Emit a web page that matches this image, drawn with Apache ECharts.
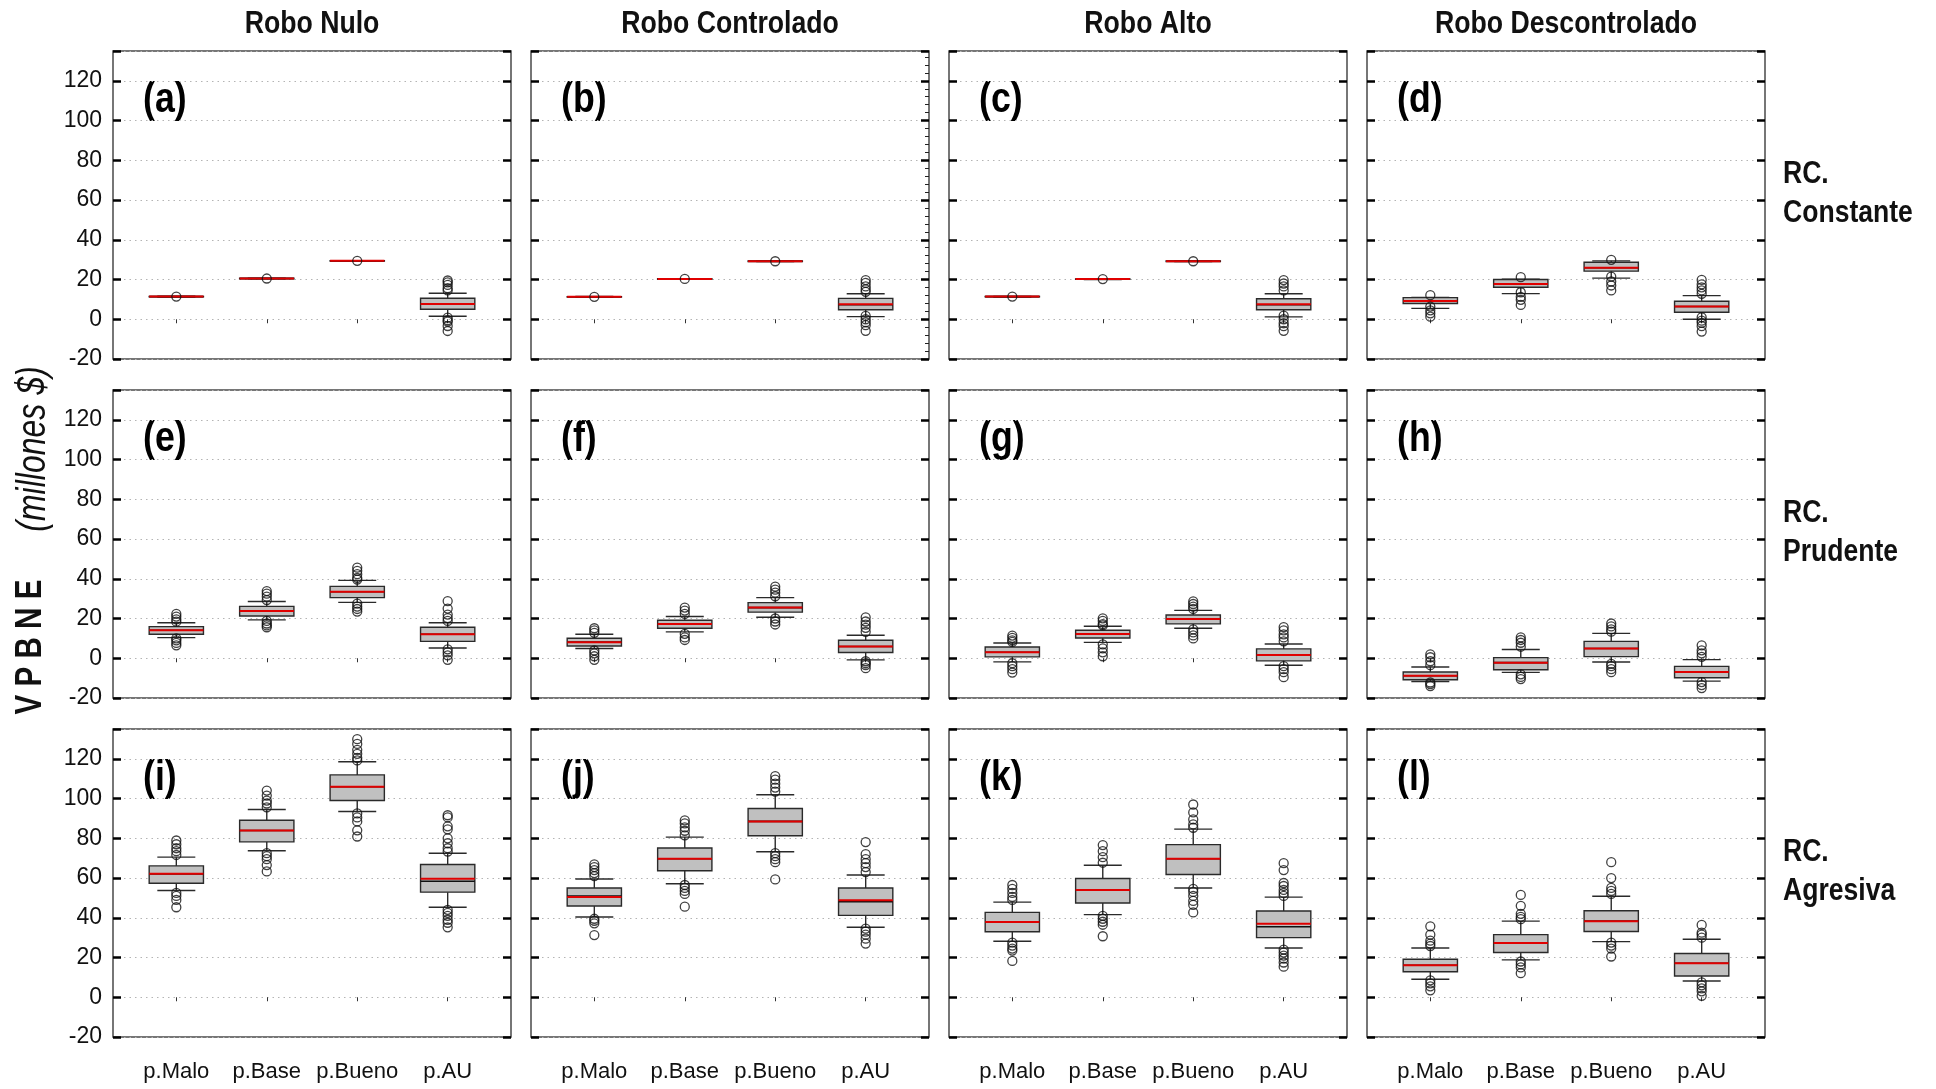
<!DOCTYPE html>
<html><head><meta charset="utf-8">
<script src="https://cdn.jsdelivr.net/npm/echarts@6/dist/echarts.min.js"></script>
<style>html,body{margin:0;padding:0;background:#fff;}#c{width:1936px;height:1089px;}</style>
</head><body><div id="c"></div>
<script>
// ---------------- DATA ----------------
const categories = ['p.Malo', 'p.Base', 'p.Bueno', 'p.AU'];
const columnTitles = ['Robo Nulo', 'Robo Controlado', 'Robo Alto', 'Robo Descontrolado'];
const rowTitles = ['RC.\nConstante', 'RC.\nPrudente', 'RC.\nAgresiva'];
const panelLetters = ['(a)','(b)','(c)','(d)','(e)','(f)','(g)','(h)','(i)','(j)','(k)','(l)'];
const yTicks = [-20, 0, 20, 40, 60, 80, 100, 120];
const yTitleMain = 'V P B N E';
const yTitleUnit = '(millones $)';

// stats per category: [whisker low, Q1, median, Q3, whisker high, mean]
const statsA = [[11.2,11.3,11.4,11.5,11.6,11.4],[20.3,20.4,20.5,20.6,20.6,20.5],[29.3,29.4,29.4,29.5,29.5,29.4],[1.5,5.0,7.7,10.6,13.1,7.7]];
const statsB = [[11.1,11.2,11.3,11.4,11.5,11.3],[20.1,20.2,20.3,20.4,20.4,20.3],[29.1,29.2,29.2,29.3,29.3,29.2],[1.3,4.8,7.3,10.5,12.8,7.5]];
const statsC = [[11.2,11.3,11.4,11.5,11.5,11.4],[20.0,20.1,20.2,20.3,20.3,20.2],[29.1,29.2,29.2,29.3,29.3,29.2],[1.2,4.8,7.3,10.3,12.8,7.5]];
const statsD = [[5.5,7.9,9.2,10.9,11.0,9.2],[12.9,16.1,17.8,20.0,20.2,17.8],[20.7,24.2,25.9,28.7,29.4,25.9],[0.0,3.5,6.4,9.1,11.9,6.4]];
const statsE = [[10.4,12.1,14.1,15.9,17.9,14.1],[19.3,21.3,23.8,26.1,28.6,23.8],[28.1,30.5,33.5,36.2,39.2,33.5],[5.2,8.5,12.1,15.6,17.9,12.1]];
const statsF = [[4.9,6.2,8.1,10.1,12.1,8.1],[13.3,15.1,17.3,19.1,21.0,17.3],[20.6,23.2,25.5,28.0,30.5,25.5],[-0.8,2.9,5.9,9.1,11.6,5.9]];
const statsG = [[-1.8,0.7,3.0,5.7,7.7,3.0],[8.0,10.2,12.2,14.1,16.1,12.2],[15.1,17.3,19.8,21.8,24.1,19.8],[-3.5,-1.3,1.7,4.7,7.2,1.7]];
const statsH = [[-11.7,-10.8,-8.8,-6.9,-4.4,-8.8],[-7.1,-5.8,-2.2,0.3,4.4,-2.2],[-1.9,0.8,4.9,8.5,12.5,4.9],[-11.5,-9.8,-6.9,-4.1,-0.7,-6.9]];
const statsI = [[53.7,57.4,62.1,66.1,70.5,62.1],[73.7,78.2,83.9,89.1,94.5,83.9],[93.5,99.0,105.9,111.9,118.5,105.9],[45.3,52.9,58.4,66.8,72.5,59.7]];
const statsJ = [[40.4,45.9,50.9,55.0,59.5,50.4],[57.1,63.7,69.7,75.1,80.6,69.7],[73.2,81.3,88.5,95.0,101.9,88.5],[35.2,41.2,48.1,55.0,61.5,48.8]];
const statsK = [[28.2,33.0,37.9,42.7,47.9,37.9],[41.6,47.4,54.0,59.8,66.4,54.0],[55.0,61.8,69.7,76.8,84.6,69.7],[24.8,30.0,35.5,43.4,50.4,37.0]];
const statsL = [[9.1,12.8,16.1,19.1,24.8,16.1],[18.8,22.5,27.3,31.5,38.3,27.3],[28.0,33.1,38.3,43.5,50.8,38.3],[8.2,10.7,17.1,22.0,29.2,17.1]];

// outliers per category
const outA = [[11.4],[20.5],[29.4],[19.5,18.6,17.3,15.6,14.5,0.8,-0.5,-1.2,-3.4,-5.9]];
const outB = [[11.3],[20.3],[29.2],[19.7,18.3,16.5,15.0,13.8,1.7,0.0,-1.5,-3.0,-5.8]];
const outC = [[11.4],[20.2],[29.2],[19.7,18.0,16.5,14.5,1.8,0.0,-2.0,-3.5,-5.8]];
const outD = [[12.1,6.4,4.5,3.0,1.3],[21.2,13.6,11.3,9.8,7.2],[29.9,21.5,19.0,17.0,14.5],[19.8,17.6,16.0,14.5,12.8,1.0,-0.7,-1.8,-3.5,-6.2]];
const outE = [[22.3,21.0,19.6,18.4,10.0,9.0,7.7,6.5],[33.8,32.5,31.0,29.3,18.8,17.5,16.5,15.6],[45.6,44.0,42.3,40.5,39.6,27.5,26.0,24.8,23.5],[28.8,25.0,22.0,20.2,18.8,4.5,3.0,1.5,-0.8]];
const outF = [[15.1,14.0,12.8,3.9,2.5,1.0,-0.8],[25.5,24.0,22.3,12.3,10.5,9.2],[36.0,34.5,33.0,31.2,20.0,18.5,17.0],[20.6,18.5,16.9,15.3,13.3,-1.5,-2.5,-3.4,-5.0]];
const outG = [[11.4,10.3,9.0,8.2,-2.5,-4.0,-5.5,-7.2],[20.1,18.8,17.2,16.5,7.0,5.0,3.0,1.0],[28.6,27.3,26.0,24.8,14.5,13.0,11.5,10.0],[15.7,14.0,12.0,10.5,8.5,-4.0,-5.5,-7.0,-9.5]];
const outH = [[2.0,0.5,-1.5,-3.5,-12.2,-13.0,-14.0],[10.5,9.2,7.8,5.8,-8.1,-9.4,-10.5],[17.5,16.0,14.5,13.4,-2.8,-4.0,-5.5,-7.0],[6.5,4.0,2.5,0.7,-12.0,-13.5,-15.0]];
const outI = [[78.9,77.0,75.0,73.5,71.6,52.5,51.0,49.0,45.3],[104.0,101.5,99.0,97.5,95.6,72.5,71.0,69.5,66.5,63.3],[129.9,127.5,124.5,122.5,120.5,119.2,92.5,90.5,88.5,84.0,80.9],[91.6,90.5,86.0,84.5,80.0,77.5,75.0,73.3,44.0,42.5,41.0,39.0,37.5,35.2]];
const outJ = [[66.9,65.5,64.0,62.5,61.0,39.5,38.5,37.2,31.3],[89.0,87.5,85.5,83.8,81.5,56.5,55.0,53.5,52.0,45.6],[111.3,109.5,107.5,105.5,103.5,72.5,71.0,69.5,68.0,59.3],[78.1,72.0,69.5,67.5,65.5,63.0,34.5,33.0,31.5,29.5,27.0]];
const outK = [[56.5,54.5,52.5,50.5,49.0,27.5,26.0,24.5,23.5,18.3],[76.6,73.5,70.5,67.7,41.0,39.5,38.0,36.5,30.7],[97.0,93.0,89.5,87.0,85.3,54.5,53.0,51.0,48.5,46.5,42.7],[67.5,64.0,57.5,56.0,54.0,52.5,51.0,24.0,22.5,21.0,19.5,17.5,15.4]];
const outL = [[35.7,31.5,28.5,27.0,25.8,8.5,7.0,5.5,3.5],[51.5,46.0,42.0,40.5,39.3,18.0,16.5,15.0,12.1],[68.0,60.0,55.0,53.5,52.0,27.5,26.0,24.5,20.5],[36.4,32.5,31.5,30.0,7.5,6.0,4.5,3.0,0.7]];

// ---------------- LAYOUT / STYLE ----------------
const panelStats = [statsA,statsB,statsC,statsD,statsE,statsF,statsG,statsH,statsI,statsJ,statsK,statsL];
const panelOut = [outA,outB,outC,outD,outE,outF,outG,outH,outI,outJ,outK,outL];
const GL = [113, 531, 949, 1367];
const GT = [51, 390, 729];
const GW = 398, GH = 308;
const F = "'Liberation Sans', Arial, sans-serif";

function renderBox(params, api) {
  const x = api.value(0);
  const lo = api.value(1), q1 = api.value(2), med = api.value(3), q3 = api.value(4), hi = api.value(5), mean = api.value(6);
  const pLo = api.coord([x, lo]), pQ1 = api.coord([x, q1]), pMed = api.coord([x, med]);
  const pQ3 = api.coord([x, q3]), pHi = api.coord([x, hi]), pMean = api.coord([x, mean]);
  const hb = api.size([0.3, 0])[0];
  const hc = api.size([0.21, 0])[0];
  const cx = pMed[0];
  const st = { stroke: '#2a2a2a', lineWidth: 1.4 };
  return {
    type: 'group',
    children: [
      { type: 'line', shape: { x1: cx, y1: pHi[1], x2: cx, y2: pQ3[1] }, style: st },
      { type: 'line', shape: { x1: cx, y1: pQ1[1], x2: cx, y2: pLo[1] }, style: st },
      { type: 'line', shape: { x1: cx - hc, y1: pHi[1], x2: cx + hc, y2: pHi[1] }, style: st },
      { type: 'line', shape: { x1: cx - hc, y1: pLo[1], x2: cx + hc, y2: pLo[1] }, style: st },
      { type: 'rect', shape: { x: cx - hb, y: pQ3[1], width: 2 * hb, height: Math.max(pQ1[1] - pQ3[1], 0.5) },
        style: { fill: '#c0c0c0', stroke: '#2a2a2a', lineWidth: 1.4 } },
      { type: 'line', shape: { x1: cx - hb, y1: pMed[1], x2: cx + hb, y2: pMed[1] }, style: { stroke: '#111', lineWidth: 1.6 } },
      { type: 'line', shape: { x1: cx - hb, y1: pMean[1], x2: cx + hb, y2: pMean[1] }, style: { stroke: '#e00000', lineWidth: 2 } }
    ]
  };
}

const grids = [], xAxes = [], yAxes = [], series = [], graphics = [];
for (let r = 0; r < 3; r++) {
  for (let c = 0; c < 4; c++) {
    const p = r * 4 + c;
    grids.push({ left: GL[c], top: GT[r], width: GW, height: GH, show: true,
      borderColor: '#4a4a4a', borderWidth: 1.5, backgroundColor: 'rgba(0,0,0,0)' });
    xAxes.push({ gridIndex: p, type: 'value', min: 0.3, max: 4.7,
      axisLine: { show: false },
      axisTick: { show: true, customValues: [1, 2, 3, 4], length: 4, lineStyle: { color: '#333', width: 1 } },
      axisLabel: { show: r === 2, customValues: [1, 2, 3, 4], formatter: v => categories[Math.round(v) - 1] || '',
        fontSize: 22, color: '#111', fontFamily: F, margin: 24 },
      splitLine: { show: false } });
    yAxes.push({ gridIndex: p, type: 'value', min: -20, max: 135, interval: 20, position: 'left',
      axisLine: { show: false },
      axisTick: { show: true, inside: true, length: 8, lineStyle: { color: '#000', width: 2.5 } },
      axisLabel: { show: c === 0, formatter: v => (yTicks.indexOf(v) >= 0 ? String(v) : ''),
        fontSize: 23, color: '#111', fontFamily: F, margin: 11 },
      splitLine: { show: true, lineStyle: { color: '#b4b4b4', width: 1, type: [1.5, 4] } } });
    yAxes.push({ gridIndex: p, type: 'value', min: -20, max: 135, interval: 20, position: 'right',
      axisLine: { show: false },
      axisTick: { show: true, inside: true, length: 8, lineStyle: { color: '#000', width: 2.5 } },
      minorTick: { show: p === 1, splitNumber: 5, length: 4, lineStyle: { color: '#222', width: 1 } },
      axisLabel: { show: false }, splitLine: { show: false } });
    const st = panelStats[p];
    series.push({ type: 'custom', xAxisIndex: p, yAxisIndex: 2 * p, renderItem: renderBox, silent: true,
      encode: { x: 0, y: [1, 2, 3, 4, 5] }, z: 3,
      data: st.map((s, i) => [i + 1].concat(s)) });
    const pts = [];
    panelOut[p].forEach((arr, i) => arr.forEach(v => pts.push([i + 1, v])));
    series.push({ type: 'scatter', xAxisIndex: p, yAxisIndex: 2 * p, symbol: 'circle', symbolSize: 9, silent: true, z: 4,
      itemStyle: { color: 'rgba(255,255,255,0)', borderColor: '#111', borderWidth: 1.3 }, data: pts });
    graphics.push({ type: 'text', x: GL[c] + 30, y: GT[r] + 49, scaleX: 0.85,
      style: { text: panelLetters[p], font: "bold 42px " + F, fill: '#000', textAlign: 'left', textVerticalAlign: 'middle' } });
  }
}
columnTitles.forEach((t, c) => graphics.push({ type: 'text', x: GL[c] + GW / 2, y: 24, scaleX: 0.86,
  style: { text: t, font: "bold 31px " + F, fill: '#111', textAlign: 'center', textVerticalAlign: 'middle' } }));
rowTitles.forEach((t, r) => graphics.push({ type: 'text', x: 1783, y: GT[r] + GH / 2 - 11, scaleX: 0.83,
  style: { text: t, font: "bold 32px " + F, fill: '#111', textAlign: 'left', textVerticalAlign: 'middle', lineHeight: 39 } }));
graphics.push({ type: 'text', x: 31, y: 647, rotation: Math.PI / 2, scaleX: 0.8,
  style: { text: yTitleMain, font: "bold 37px " + F, fill: '#111', textAlign: 'center', textVerticalAlign: 'middle' } });
graphics.push({ type: 'text', x: 34, y: 449, rotation: Math.PI / 2, scaleX: 0.8,
  style: { text: yTitleUnit, font: "italic 40px " + F, fill: '#111', textAlign: 'center', textVerticalAlign: 'middle' } });

const chart = echarts.init(document.getElementById('c'), null, { renderer: 'canvas' });
chart.setOption({ animation: false, backgroundColor: '#fff', grid: grids, xAxis: xAxes, yAxis: yAxes, series: series, graphic: graphics });
</script></body></html>
